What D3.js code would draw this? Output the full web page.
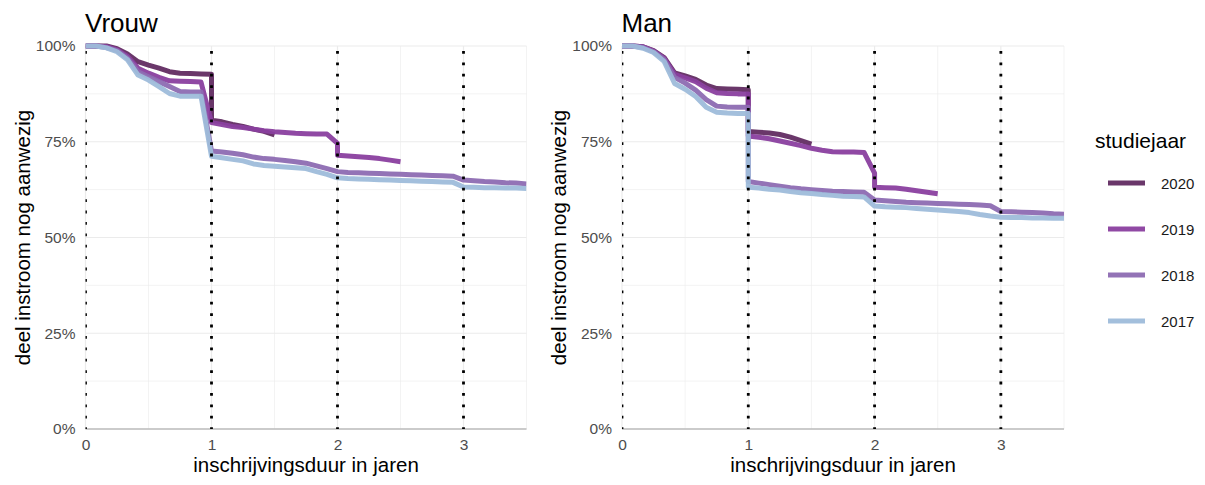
<!DOCTYPE html>
<html><head><meta charset="utf-8">
<script src="https://cdn.jsdelivr.net/npm/d3@7"></script>
<style>
body{margin:0;background:#fff}
text{font-family:"Liberation Sans",Arial,Helvetica,sans-serif}
</style>
</head><body>
<svg id="chart" width="1205" height="485"></svg>
<script>
// ---------- data ----------
const panelen = ["Vrouw", "Man"];
const studiejaren = ["2020", "2019", "2018", "2017"];
const kleuren = ["#622c62", "#8a3f9f", "#8d6cb2", "#9ebcda"];
const yTicks = [0, 25, 50, 75, 100];
const yTickLabels = ["0%", "25%", "50%", "75%", "100%"];
const xTicks = [0, 1, 2, 3];
const xTickLabels = ["0", "1", "2", "3"];
const jaarGrenzen = [0, 1, 2, 3];
const xTitel = "inschrijvingsduur in jaren";
const yTitel = "deel instroom nog aanwezig";
const legendaTitel = "studiejaar";

// [maand, percentage]
const vrouw2020 = [[0,100],[1,100],[2,100],[3,99.3],[4,97.9],[5,95.9],[6,95.0],[7,94.2],[8,93.3],[9,92.9],[10,92.8],[11,92.7],[12,92.6],[12,80.6],[13,80.2],[14,79.5],[15,79.0],[16,78.3],[17,77.7],[18,76.8]];
const vrouw2019 = [[0,100],[1,100],[2,99.8],[3,99.0],[4,97.3],[5,94.2],[6,92.9],[7,91.8],[8,90.9],[9,90.8],[10,90.7],[11,90.6],[12,80.0],[13,79.5],[14,79.0],[15,78.7],[16,78.3],[17,77.9],[18,77.6],[19,77.4],[20,77.2],[21,77.1],[22,77.0],[23,77.0],[24,74.6],[24,71.5],[25,71.3],[26,71.1],[27,70.9],[28,70.6],[29,70.2],[30,69.8]];
const vrouw2018 = [[0,100],[1,100],[2,99.6],[3,98.8],[4,96.8],[5,93.3],[6,92.0],[7,90.7],[8,89.4],[9,88.1],[10,88.0],[11,88.0],[12,72.6],[13,72.3],[14,72.0],[15,71.6],[16,71.0],[17,70.6],[18,70.4],[19,70.1],[20,69.8],[21,69.4],[22,68.7],[23,68.0],[24,67.2],[25,67.0],[26,66.9],[27,66.8],[28,66.7],[29,66.6],[30,66.5],[31,66.4],[32,66.3],[33,66.2],[34,66.1],[35,66.0],[36,65.0],[37,64.8],[38,64.6],[39,64.5],[40,64.3],[41,64.2],[42,64.0]];
const vrouw2017 = [[0,100],[1,100],[2,99.5],[3,98.5],[4,96.4],[5,92.4],[6,91.1],[7,89.4],[8,87.6],[9,86.9],[10,86.9],[11,86.9],[12,71.2],[13,70.8],[14,70.4],[15,70.0],[16,69.2],[17,68.8],[18,68.6],[19,68.4],[20,68.2],[21,68.0],[22,67.2],[23,66.5],[24,65.6],[25,65.4],[26,65.3],[27,65.2],[28,65.1],[29,65.0],[30,64.9],[31,64.8],[32,64.7],[33,64.6],[34,64.5],[35,64.4],[36,63.2],[37,63.1],[38,63.0],[39,63.0],[40,62.9],[41,62.9],[42,62.8]];

const man2020 = [[0,100],[1,100],[2,99.8],[3,98.8],[4,97.0],[5,93.0],[6,92.2],[7,91.3],[8,89.8],[9,88.9],[10,88.8],[11,88.7],[12,88.6],[12,77.7],[13,77.5],[14,77.3],[15,76.9],[16,76.2],[17,75.3],[18,74.4]];
const man2019 = [[0,100],[1,100],[2,99.8],[3,98.7],[4,96.8],[5,92.6],[6,91.7],[7,90.7],[8,89.0],[9,87.8],[10,87.6],[11,87.5],[12,87.5],[12,76.5],[13,76.2],[14,75.8],[15,75.2],[16,74.6],[17,74.0],[18,73.3],[19,72.8],[20,72.4],[21,72.3],[22,72.3],[23,72.2],[24,66.8],[24,63.1],[25,63.0],[26,62.9],[27,62.6],[28,62.2],[29,61.8],[30,61.4]];
const man2018 = [[0,100],[1,100],[2,99.6],[3,98.5],[4,96.5],[5,91.8],[6,90.3],[7,88.5],[8,86.0],[9,84.3],[10,84.1],[11,84.0],[12,84.0],[12,64.6],[13,64.2],[14,63.8],[15,63.4],[16,63.0],[17,62.7],[18,62.5],[19,62.3],[20,62.1],[21,62.0],[22,61.9],[23,61.8],[24,59.8],[25,59.6],[26,59.4],[27,59.2],[28,59.1],[29,59.0],[30,58.9],[31,58.8],[32,58.7],[33,58.6],[34,58.5],[35,58.3],[36,56.8],[37,56.7],[38,56.6],[39,56.5],[40,56.4],[41,56.2],[42,56.1]];
const man2017 = [[0,100],[1,100],[2,99.4],[3,98.3],[4,96.0],[5,90.2],[6,88.7],[7,86.8],[8,84.0],[9,82.7],[10,82.5],[11,82.4],[12,82.4],[12,63.1],[13,62.9],[14,62.6],[15,62.4],[16,62.0],[17,61.7],[18,61.5],[19,61.2],[20,61.0],[21,60.8],[22,60.7],[23,60.6],[24,58.2],[25,58.0],[26,57.9],[27,57.8],[28,57.6],[29,57.4],[30,57.2],[31,57.0],[32,56.8],[33,56.5],[34,56.0],[35,55.6],[36,55.3],[37,55.2],[38,55.2],[39,55.1],[40,55.1],[41,55.0],[42,55.0]];

const reeksen = {
  "Vrouw": [vrouw2020, vrouw2019, vrouw2018, vrouw2017],
  "Man":   [man2020, man2019, man2018, man2017]
};

// ---------- layout ----------
const svg = d3.select("#chart");
const plotTop = 46, plotBottom = 429;
const panelX = [[85.5, 526.5], [622, 1064]];
const y = d3.scaleLinear().domain([0, 100]).range([plotBottom, plotTop]);
const gridCol = "#ebebeb";

panelen.forEach((naam, pi) => {
  const [x0, x1] = panelX[pi];
  const x = d3.scaleLinear().domain([0, 3.5]).range([x0, x1]);
  const g = svg.append("g");

  const clipId = "clip" + pi;
  svg.append("clipPath").attr("id", clipId).append("rect")
    .attr("x", x0).attr("y", plotTop - 6).attr("width", x1 - x0).attr("height", plotBottom - plotTop + 6);

  // minor grid
  const yMinor = [12.5, 37.5, 62.5, 87.5];
  g.selectAll(".ymin").data(yMinor).join("line")
    .attr("x1", x0).attr("x2", x1).attr("y1", d => y(d)).attr("y2", d => y(d))
    .attr("stroke", gridCol).attr("stroke-width", 0.6);
  const xMinor = [0.5, 1.5, 2.5, 3.5];
  g.selectAll(".xmin").data(xMinor).join("line")
    .attr("x1", d => x(d)).attr("x2", d => x(d)).attr("y1", plotTop).attr("y2", plotBottom)
    .attr("stroke", gridCol).attr("stroke-width", 0.6);
  // major grid
  g.selectAll(".ymaj").data(yTicks).join("line")
    .attr("x1", x0).attr("x2", x1).attr("y1", d => y(d)).attr("y2", d => y(d))
    .attr("stroke", gridCol).attr("stroke-width", 1.2);
  g.selectAll(".xmaj").data(xTicks).join("line")
    .attr("x1", d => x(d)).attr("x2", d => x(d)).attr("y1", plotTop).attr("y2", plotBottom)
    .attr("stroke", gridCol).attr("stroke-width", 1.2);

  // baseline
  g.append("line").attr("x1", x0).attr("x2", x1).attr("y1", y(0)).attr("y2", y(0))
    .attr("stroke", "#bdbdbd").attr("stroke-width", 1.6);

  // lines
  const line = d3.line().x(d => x(d[0] / 12)).y(d => y(d[1]));
  const lg = g.append("g").attr("clip-path", `url(#${clipId})`);
  reeksen[naam].forEach((reeks, si) => {
    lg.append("path").datum(reeks)
      .attr("d", line)
      .attr("fill", "none")
      .attr("stroke", kleuren[si])
      .attr("stroke-width", 5)
      .attr("stroke-linejoin", "round")
      .attr("stroke-opacity", 0.95);
  });

  // dotted year lines
  lg.selectAll(".vl").data(jaarGrenzen).join("line")
    .attr("x1", d => x(d)).attr("x2", d => x(d)).attr("y1", plotBottom + 1).attr("y2", plotTop)
    .attr("stroke", "#000").attr("stroke-width", 2.8)
    .attr("stroke-dasharray", "2.8,8.6");

  // axes
  const ax = g.append("g").attr("transform", `translate(0,${plotBottom})`)
    .call(d3.axisBottom(x).tickValues(xTicks).tickFormat((d, i) => xTickLabels[i]).tickSize(0).tickPadding(10));
  ax.select(".domain").remove();
  ax.selectAll("text").attr("font-size", 15.5).attr("fill", "#4d4d4d")
    .style("font-family", '"Liberation Sans",Arial,sans-serif');

  const ay = g.append("g").attr("transform", `translate(${x0},0)`)
    .call(d3.axisLeft(y).tickValues(yTicks).tickFormat((d, i) => yTickLabels[i]).tickSize(0).tickPadding(10));
  ay.select(".domain").remove();
  ay.selectAll("text").attr("font-size", 15.5).attr("fill", "#4d4d4d")
    .style("font-family", '"Liberation Sans",Arial,sans-serif');

  // titles
  g.append("text").attr("x", x0 - 0.5).attr("y", 32).attr("font-size", 26).attr("fill", "#000").text(naam);
  g.append("text").attr("x", (x0 + x1) / 2).attr("y", 472).attr("text-anchor", "middle")
    .attr("font-size", 20.5).attr("fill", "#000").text(xTitel);
  g.append("text").attr("transform", `translate(${x0 - 56},${(plotTop + plotBottom) / 2}) rotate(-90)`)
    .attr("text-anchor", "middle").attr("font-size", 20.5).attr("fill", "#000").text(yTitel);
});

// legend
const leg = svg.append("g");
leg.append("text").attr("x", 1095).attr("y", 148).attr("font-size", 21).attr("fill", "#000").text(legendaTitel);
const legY = d3.scalePoint().domain(studiejaren).range([183, 321]);
studiejaren.forEach((jaar, i) => {
  leg.append("line").attr("x1", 1108).attr("x2", 1145).attr("y1", legY(jaar)).attr("y2", legY(jaar))
    .attr("stroke", kleuren[i]).attr("stroke-width", 5).attr("stroke-opacity", 0.95);
  leg.append("text").attr("x", 1161).attr("y", legY(jaar) + 6).attr("font-size", 15).attr("fill", "#1a1a1a").text(jaar);
});
</script>
</body></html>
